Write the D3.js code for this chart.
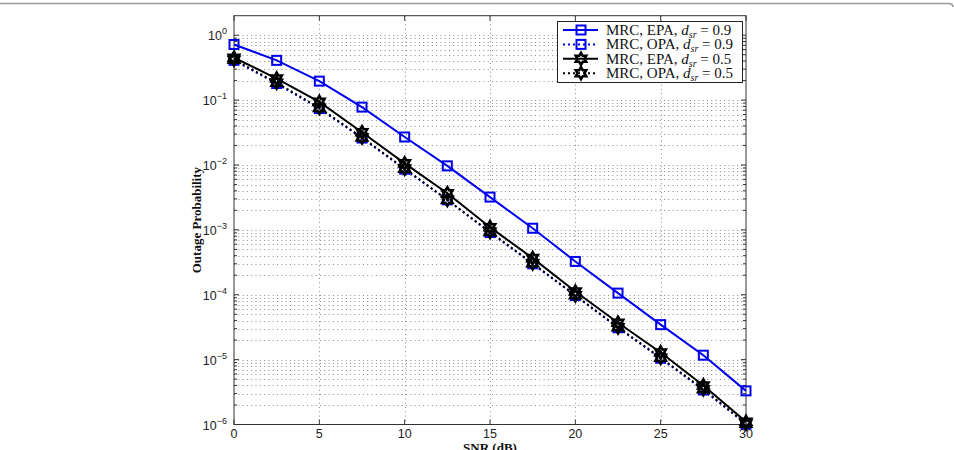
<!DOCTYPE html>
<html>
<head>
<meta charset="utf-8">
<script src="https://cdn.jsdelivr.net/npm/d3@7"></script>
<style>
  body { margin: 0; background: #fff; }
  svg { display: block; }
  .tick-label { font-family: "Liberation Sans", Arial, sans-serif; font-size: 12.5px; fill: #222; }
  .serif { font-family: "Liberation Serif", "Times New Roman", serif; fill: #111; }
</style>
</head>
<body>
<script>
// data
var snr = [0, 2.5, 5, 7.5, 10, 12.5, 15, 17.5, 20, 22.5, 25, 27.5, 30];
var mrcEpa09 = [0.72, 0.41, 0.196, 0.078, 0.027, 0.0097, 0.0032, 0.00106, 3.26e-4, 1.06e-4, 3.46e-5, 1.17e-5, 3.3e-6];
var mrcOpa09 = [0.41, 0.18, 0.074, 0.026, 0.0086, 0.0029, 0.00091, 3.0e-4, 9.7e-5, 3.1e-5, 1.05e-5, 3.4e-6, 1.02e-6];
var mrcEpa05 = [0.45, 0.215, 0.094, 0.032, 0.0106, 0.00367, 0.0011, 3.67e-4, 1.12e-4, 3.7e-5, 1.29e-5, 4.0e-6, 1.1e-6];
var mrcOpa05 = [0.42, 0.185, 0.076, 0.0265, 0.0088, 0.0029, 0.00093, 3.05e-4, 9.8e-5, 3.15e-5, 1.07e-5, 3.5e-6, 1.03e-6];

var xTicks = [0, 5, 10, 15, 20, 25, 30];
var yExps = [0, -1, -2, -3, -4, -5, -6];

var legendNames = ["MRC, EPA, ", "MRC, OPA, ", "MRC, EPA, ", "MRC, OPA, "];
var legendVals = ["0.9", "0.9", "0.5", "0.5"];

var W = 954, H = 450;
// plot box in pixels ("top" is taken by window.top, so prefixed names)
var plotLeft = 234, plotRight = 746, plotTop = 15.7, plotBottom = 424.5;

var svg = d3.select("body").append("svg")
  .attr("width", W)
  .attr("height", H);

// page border line at the very top
svg.append("path")
  .attr("d", "M0,3.5 L948,3.5 Q953,3.5 953,7")
  .attr("fill", "none")
  .attr("stroke", "#9a9a9a")
  .attr("stroke-width", 1.6);

var x = d3.scaleLinear().domain([0, 30]).range([plotLeft, plotRight]);
var y = d3.scaleLog().domain([1e-6, 2]).range([plotBottom, plotTop]);

var gridColor = "#8c8c8c";

// minor + major y grid (log)
var yGrid = [];
for (var e = -6; e <= 0; e++) {
  for (var m = 1; m <= 9; m++) {
    var v = m * Math.pow(10, e);
    if (v > 1e-6 && v < 2) yGrid.push(v);
  }
}
svg.append("g").selectAll("line")
  .data(yGrid)
  .join("line")
  .attr("x1", plotLeft).attr("x2", plotRight)
  .attr("y1", d => Math.round(y(d)) + 0.5)
  .attr("y2", d => Math.round(y(d)) + 0.5)
  .attr("stroke", gridColor)
  .attr("stroke-width", 1)
  .attr("stroke-dasharray", "1,3.3");

// x grid
svg.append("g").selectAll("line")
  .data(xTicks.slice(1, -1))
  .join("line")
  .attr("x1", d => Math.round(x(d)) + 0.5)
  .attr("x2", d => Math.round(x(d)) + 0.5)
  .attr("y1", plotTop).attr("y2", plotBottom)
  .attr("stroke", gridColor)
  .attr("stroke-width", 1)
  .attr("stroke-dasharray", "1,3.3");

// axes box
svg.append("rect")
  .attr("x", plotLeft).attr("y", plotTop)
  .attr("width", plotRight - plotLeft).attr("height", plotBottom - plotTop)
  .attr("fill", "none")
  .attr("stroke", "#333")
  .attr("stroke-width", 1);

// ticks inward, on all four sides
var tk = svg.append("g").attr("stroke", "#333").attr("stroke-width", 1);
xTicks.forEach(function (t) {
  tk.append("line").attr("x1", x(t)).attr("x2", x(t)).attr("y1", plotBottom).attr("y2", plotBottom - 5);
  tk.append("line").attr("x1", x(t)).attr("x2", x(t)).attr("y1", plotTop).attr("y2", plotTop + 5);
});
yGrid.forEach(function (v) {
  var len = Math.abs(Math.log10(v) - Math.round(Math.log10(v))) < 1e-9 ? 5 : 3;
  tk.append("line").attr("x1", plotLeft).attr("x2", plotLeft + len).attr("y1", y(v)).attr("y2", y(v));
  tk.append("line").attr("x1", plotRight).attr("x2", plotRight - len).attr("y1", y(v)).attr("y2", y(v));
});

// tick labels
svg.append("g").selectAll("text")
  .data(xTicks)
  .join("text")
  .attr("class", "tick-label")
  .attr("x", d => x(d))
  .attr("y", plotBottom + 13)
  .attr("text-anchor", "middle")
  .text(d => d);

var yl = svg.append("g");
yExps.forEach(function (ex) {
  var t = yl.append("text")
    .attr("class", "tick-label")
    .attr("x", plotLeft - 7)
    .attr("y", y(Math.pow(10, ex)) + 5)
    .attr("text-anchor", "end");
  t.append("tspan").text("10");
  t.append("tspan")
    .attr("dy", -6)
    .style("font-size", "9px")
    .text(ex === 0 ? "0" : "\u2212" + (-ex));
});

// axis titles
svg.append("text")
  .attr("class", "serif")
  .attr("transform", "translate(201," + ((plotTop + plotBottom) / 2) + ") rotate(-90)")
  .attr("text-anchor", "middle")
  .attr("font-weight", "bold")
  .attr("font-size", 13)
  .text("Outage Probability");

svg.append("text")
  .attr("class", "serif")
  .attr("x", (plotLeft + plotRight) / 2)
  .attr("y", 452)
  .attr("text-anchor", "middle")
  .attr("font-weight", "bold")
  .attr("font-size", 13)
  .text("SNR (dB)");

// series
var series = [
  { vals: mrcEpa09, color: "#0000ee", dash: null, marker: "square" },
  { vals: mrcOpa09, color: "#0000ee", dash: "2,3", marker: "square" },
  { vals: mrcEpa05, color: "#000", dash: null, marker: "hex" },
  { vals: mrcOpa05, color: "#000", dash: "2,3", marker: "hex" }
];

// six pointed star centred on 0,0
function hexagram(r) {
  var pts = [];
  for (var i = 0; i < 12; i++) {
    var a = -Math.PI / 2 + i * Math.PI / 6;
    var rr = i % 2 === 0 ? r : r * 0.58;
    pts.push([rr * Math.cos(a), rr * Math.sin(a)]);
  }
  return "M" + pts.map(p => p[0].toFixed(2) + "," + p[1].toFixed(2)).join("L") + "Z";
}

function drawMarker(g, kind, color, cx, cy) {
  if (kind === "square") {
    g.append("rect")
      .attr("x", cx - 4.5).attr("y", cy - 4.5)
      .attr("width", 9).attr("height", 9)
      .attr("fill", "none")
      .attr("stroke", color)
      .attr("stroke-width", 2);
  } else {
    g.append("path")
      .attr("d", hexagram(6))
      .attr("transform", "translate(" + cx + "," + cy + ")")
      .attr("fill", "none")
      .attr("stroke", color)
      .attr("stroke-width", 2.6)
      .attr("stroke-linejoin", "miter");
  }
}

var line = d3.line()
  .x((d, i) => x(snr[i]))
  .y(d => y(d));

series.forEach(function (s) {
  var g = svg.append("g");
  g.append("path")
    .datum(s.vals)
    .attr("d", line)
    .attr("fill", "none")
    .attr("stroke", s.color)
    .attr("stroke-width", 2)
    .attr("stroke-dasharray", s.dash);
  s.vals.forEach(function (v, i) {
    drawMarker(g, s.marker, s.color, x(snr[i]), y(v));
  });
});

// legend
var lg = svg.append("g");
lg.append("rect")
  .attr("x", 557.5).attr("y", 21.5)
  .attr("width", 185).attr("height", 61)
  .attr("fill", "#fff")
  .attr("stroke", "#222")
  .attr("stroke-width", 1);

series.forEach(function (s, i) {
  var ly = 30 + i * 14.4;
  lg.append("line")
    .attr("x1", 563).attr("x2", 598)
    .attr("y1", ly).attr("y2", ly)
    .attr("stroke", s.color)
    .attr("stroke-width", 2)
    .attr("stroke-dasharray", s.dash);
  drawMarker(lg, s.marker, s.color, 581, ly);
  var t = lg.append("text")
    .attr("class", "serif")
    .attr("x", 606)
    .attr("y", ly + 5)
    .attr("font-size", 15);
  t.append("tspan").text(legendNames[i]);
  t.append("tspan").attr("font-style", "italic").text("d");
  t.append("tspan").attr("font-style", "italic").attr("font-size", 10).attr("dy", 3).text("sr");
  t.append("tspan").attr("dy", -3).text(" = " + legendVals[i]);
});
</script>
</body>
</html>
